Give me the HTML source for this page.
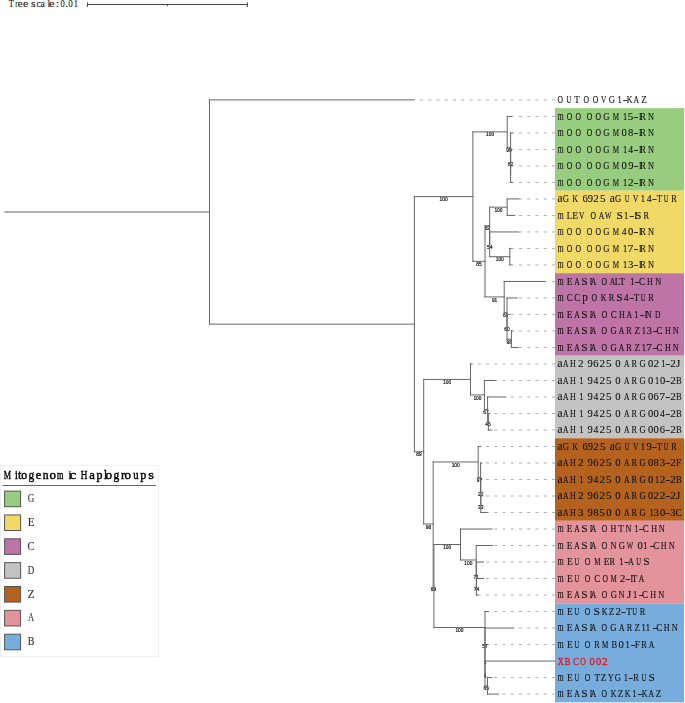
<!DOCTYPE html><html><head><meta charset="utf-8"><style>
html,body{margin:0;padding:0;background:#fff;width:685px;height:703px;overflow:hidden}
svg{display:block}
.lb{font-family:"Liberation Serif",serif;font-size:11.2px;fill:#111;stroke:#111;stroke-width:0.12px}
.bs{font-family:"Liberation Sans",sans-serif;font-size:5.5px;fill:#111;stroke:#111;stroke-width:0.2px}
.sc{font-family:"Liberation Serif",serif;font-size:9.3px;fill:#222;stroke:#222;stroke-width:0.1px}
.tt{font-family:"Liberation Serif",serif;font-size:13.4px;fill:#000;stroke:#000;stroke-width:0.45px}
.lg{font-family:"Liberation Serif",serif;font-size:13px;fill:#333;stroke:#333;stroke-width:0.15px}
</style></head><body>
<svg width="685" height="703" viewBox="0 0 685 703">
<rect x="0" y="0" width="685" height="703" fill="#fff"/>
<rect x="555" y="108.15" width="129" height="82.53" fill="#98CC7E"/>
<rect x="555" y="190.68" width="129" height="82.52" fill="#F0D966"/>
<rect x="555" y="273.20" width="129" height="82.53" fill="#BE74A6"/>
<rect x="555" y="355.73" width="129" height="82.52" fill="#C3C3C3"/>
<rect x="555" y="438.25" width="129" height="82.53" fill="#B4621E"/>
<rect x="555" y="520.78" width="129" height="82.53" fill="#E2939B"/>
<rect x="555" y="603.30" width="129" height="99.03" fill="#77ADDD"/>
<g opacity="0.999">
<text class="sc" transform="translate(8.75 7.40) scale(0.914 1.0)">T</text>
<text class="sc" transform="translate(15.14 7.40) scale(0.848 1.0)">r</text>
<text class="sc" transform="translate(17.68 7.40) scale(1.162 1.0)">e</text>
<text class="sc" transform="translate(22.94 7.40) scale(1.278 1.0)">e</text>
<text class="sc" transform="translate(31.01 7.40) scale(1.275 1.0)">s</text>
<text class="sc" transform="translate(36.42 7.40) scale(1.061 1.0)">c</text>
<text class="sc" transform="translate(40.45 7.40) scale(1.062 1.0)">a</text>
<text class="sc" transform="translate(47.61 7.40) scale(0.995 1.0)">l</text>
<text class="sc" transform="translate(49.01 7.40) scale(1.336 1.0)">e</text>
<text class="sc" transform="translate(55.42 7.40) scale(1.462 1.0)">:</text>
<text class="sc" transform="translate(60.38 7.40) scale(0.913 1.0)">0</text>
<text class="sc" transform="translate(65.17 7.40) scale(1.183 1.0)">.</text>
<text class="sc" transform="translate(68.16 7.40) scale(0.964 1.0)">0</text>
<text class="sc" transform="translate(73.75 7.40) scale(0.916 1.0)">1</text>
</g>
<path d="M87.4 4.5H247.4M87.4 2.3V7M247.4 2.3V7M167.5 4.5V6" stroke="#444" stroke-width="1" fill="none"/>
<path d="M555 99.90H414.10M555 116.41H511.40M555 132.91H512.80M555 149.42H511.50M555 165.92H511.50M555 182.43H512.20M555 198.93H518.80M555 215.44H514.70M555 231.94H518.50M555 248.44H510.80M555 264.95H510.80M555 281.45H544.80M555 297.96H517.20M555 314.47H509.60M555 330.97H512.80M555 347.48H518.00M555 363.98H472.00M555 380.49H494.90M555 396.99H505.80M555 413.50H490.00M555 430.00H491.80M555 446.50H480.80M555 463.01H481.80M555 479.51H481.80M555 496.02H482.00M555 512.52H487.00M555 529.03H492.00M555 545.53H492.60M555 562.04H483.50M555 578.54H483.50M555 595.05H477.80M555 611.55H488.50M555 628.06H513.70M555 644.56H487.80M555 677.57H491.80M555 694.08H498.50" stroke="#b0b0b0" stroke-width="1" stroke-dasharray="3 5.25" fill="none"/>
<g opacity="0.999">
<text class="bs" transform="translate(443.65 201.21) scale(0.88 1)" text-anchor="middle">100</text>
<text class="bs" transform="translate(490.05 136.48) scale(0.88 1)" text-anchor="middle">100</text>
<text class="bs" transform="translate(508.90 151.95) scale(0.88 1)" text-anchor="middle">99</text>
<text class="bs" transform="translate(510.60 166.39) scale(0.88 1)" text-anchor="middle">82</text>
<text class="bs" transform="translate(478.95 265.94) scale(0.88 1)" text-anchor="middle">85</text>
<text class="bs" transform="translate(487.35 230.35) scale(0.88 1)" text-anchor="middle">63</text>
<text class="bs" transform="translate(498.45 211.78) scale(0.88 1)" text-anchor="middle">100</text>
<text class="bs" transform="translate(489.70 248.92) scale(0.88 1)" text-anchor="middle">54</text>
<text class="bs" transform="translate(499.75 261.30) scale(0.88 1)" text-anchor="middle">100</text>
<text class="bs" transform="translate(494.60 301.53) scale(0.88 1)" text-anchor="middle">91</text>
<text class="bs" transform="translate(505.60 317.00) scale(0.88 1)" text-anchor="middle">61</text>
<text class="bs" transform="translate(507.00 331.44) scale(0.88 1)" text-anchor="middle">60</text>
<text class="bs" transform="translate(509.20 343.82) scale(0.88 1)" text-anchor="middle">98</text>
<text class="bs" transform="translate(419.05 456.33) scale(0.88 1)" text-anchor="middle">89</text>
<text class="bs" transform="translate(447.10 384.05) scale(0.88 1)" text-anchor="middle">100</text>
<text class="bs" transform="translate(477.45 399.53) scale(0.88 1)" text-anchor="middle">100</text>
<text class="bs" transform="translate(486.00 413.97) scale(0.88 1)" text-anchor="middle">67</text>
<text class="bs" transform="translate(488.00 426.35) scale(0.88 1)" text-anchor="middle">45</text>
<text class="bs" transform="translate(428.45 528.60) scale(0.88 1)" text-anchor="middle">98</text>
<text class="bs" transform="translate(455.70 466.58) scale(0.88 1)" text-anchor="middle">100</text>
<text class="bs" transform="translate(479.40 482.05) scale(0.88 1)" text-anchor="middle">97</text>
<text class="bs" transform="translate(480.70 496.49) scale(0.88 1)" text-anchor="middle">22</text>
<text class="bs" transform="translate(480.80 508.87) scale(0.88 1)" text-anchor="middle">33</text>
<text class="bs" transform="translate(433.55 590.62) scale(0.88 1)" text-anchor="middle">69</text>
<text class="bs" transform="translate(447.20 549.10) scale(0.88 1)" text-anchor="middle">100</text>
<text class="bs" transform="translate(468.35 564.58) scale(0.88 1)" text-anchor="middle">100</text>
<text class="bs" transform="translate(476.30 579.02) scale(0.88 1)" text-anchor="middle">71</text>
<text class="bs" transform="translate(476.40 591.40) scale(0.88 1)" text-anchor="middle">74</text>
<text class="bs" transform="translate(459.45 632.14) scale(0.88 1)" text-anchor="middle">100</text>
<text class="bs" transform="translate(485.00 648.13) scale(0.88 1)" text-anchor="middle">57</text>
<text class="bs" transform="translate(485.00 663.61) scale(0.88 1)" text-anchor="middle">1</text>
<text class="bs" transform="translate(485.00 678.05) scale(0.88 1)" text-anchor="middle">6</text>
<text class="bs" transform="translate(486.25 690.43) scale(0.88 1)" text-anchor="middle">65</text>
</g>
<path d="M4.80 212.03L209.50 212.03M209.50 99.90L209.50 324.17M209.50 99.90L414.10 99.90M209.50 324.17L414.40 324.17M414.40 196.61L414.40 451.73M414.40 196.61L472.90 196.61M472.90 131.88L472.90 261.34M472.90 131.88L507.20 131.88M507.20 116.41L507.20 147.35M507.20 116.41L511.40 116.41M507.20 147.35L510.60 147.35M510.60 132.91L510.60 161.79M510.60 132.91L512.80 132.91M510.60 161.79L510.60 161.79M510.60 149.42L510.60 174.17M510.60 149.42L511.50 149.42M510.60 174.17L510.60 174.17M510.60 165.92L510.60 182.43M510.60 165.92L511.50 165.92M510.60 182.43L512.20 182.43M472.90 261.34L485.00 261.34M485.00 225.75L485.00 296.93M485.00 225.75L489.70 225.75M489.70 207.18L489.70 244.32M489.70 207.18L507.20 207.18M507.20 198.93L507.20 215.44M507.20 198.93L518.80 198.93M507.20 215.44L514.70 215.44M489.70 244.32L489.70 244.32M489.70 231.94L489.70 256.70M489.70 231.94L518.50 231.94M489.70 256.70L509.80 256.70M509.80 248.44L509.80 264.95M509.80 248.44L510.80 248.44M509.80 264.95L510.80 264.95M485.00 296.93L504.20 296.93M504.20 281.45L504.20 312.40M504.20 281.45L544.80 281.45M504.20 312.40L507.00 312.40M507.00 297.96L507.00 326.84M507.00 297.96L517.20 297.96M507.00 326.84L507.00 326.84M507.00 314.47L507.00 339.22M507.00 314.47L509.60 314.47M507.00 339.22L511.40 339.22M511.40 330.97L511.40 347.48M511.40 330.97L512.80 330.97M511.40 347.48L518.00 347.48M414.40 451.73L423.70 451.73M423.70 379.45L423.70 524.00M423.70 379.45L470.50 379.45M470.50 363.98L470.50 394.93M470.50 363.98L472.00 363.98M470.50 394.93L484.40 394.93M484.40 380.49L484.40 409.37M484.40 380.49L494.90 380.49M484.40 409.37L487.60 409.37M487.60 396.99L487.60 421.75M487.60 396.99L505.80 396.99M487.60 421.75L488.40 421.75M488.40 413.50L488.40 430.00M488.40 413.50L490.00 413.50M488.40 430.00L491.80 430.00M423.70 524.00L433.20 524.00M433.20 461.98L433.20 586.02M433.20 461.98L478.20 461.98M478.20 446.50L478.20 477.45M478.20 446.50L480.80 446.50M478.20 477.45L480.60 477.45M480.60 463.01L480.60 491.89M480.60 463.01L481.80 463.01M480.60 491.89L480.80 491.89M480.80 479.51L480.80 504.27M480.80 479.51L481.80 479.51M480.80 504.27L480.80 504.27M480.80 496.02L480.80 512.52M480.80 496.02L482.00 496.02M480.80 512.52L487.00 512.52M433.20 586.02L433.90 586.02M433.90 544.50L433.90 627.54M433.90 544.50L460.50 544.50M460.50 529.03L460.50 559.98M460.50 529.03L492.00 529.03M460.50 559.98L476.20 559.98M476.20 545.53L476.20 574.42M476.20 545.53L492.60 545.53M476.20 574.42L476.40 574.42M476.40 562.04L476.40 586.80M476.40 562.04L483.50 562.04M476.40 586.80L476.40 586.80M476.40 578.54L476.40 595.05M476.40 578.54L483.50 578.54M476.40 595.05L477.80 595.05M433.90 627.54L485.00 627.54M485.00 611.55L485.00 643.53M485.00 611.55L488.50 611.55M485.00 643.53L485.00 643.53M485.00 628.06L485.00 659.01M485.00 628.06L513.70 628.06M485.00 659.01L485.00 659.01M485.00 644.56L485.00 673.45M485.00 644.56L487.80 644.56M485.00 673.45L485.00 673.45M485.00 661.07L485.00 685.83M485.00 661.07L555.00 661.07M485.00 685.83L487.50 685.83M487.50 677.57L487.50 694.08M487.50 677.57L491.80 677.57M487.50 694.08L498.50 694.08" stroke="#666" stroke-width="1" fill="none" stroke-linecap="square"/>
<text class="lb" transform="translate(557.59 103.10) scale(0.683 1.0)">O</text>
<text class="lb" transform="translate(566.56 103.10) scale(0.591 1.0)">U</text>
<text class="lb" transform="translate(574.14 103.10) scale(0.806 1.0)">T</text>
<text class="lb" transform="translate(583.49 103.10) scale(0.683 1.0)">O</text>
<text class="lb" transform="translate(592.69 103.10) scale(0.683 1.0)">O</text>
<text class="lb" transform="translate(601.02 103.10) scale(0.664 1.0)">V</text>
<text class="lb" transform="translate(608.75 103.10) scale(0.769 1.0)">G</text>
<text class="lb" transform="translate(617.45 103.10) scale(0.761 1.0)">1</text>
<text class="lb" transform="translate(622.84 103.10) scale(1.340 1.0)">-</text>
<text class="lb" transform="translate(626.77 103.10) scale(0.706 1.0)">K</text>
<text class="lb" transform="translate(633.53 103.10) scale(0.684 1.0)">A</text>
<text class="lb" transform="translate(641.17 103.10) scale(0.808 1.0)">Z</text>
<text class="lb" transform="translate(557.74 119.61) scale(0.675 1.08)">m</text>
<text class="lb" transform="translate(566.69 119.61) scale(0.683 1.0)">O</text>
<text class="lb" transform="translate(575.49 119.61) scale(0.683 1.0)">O</text>
<text class="lb" transform="translate(586.79 119.61) scale(0.683 1.0)">O</text>
<text class="lb" transform="translate(595.59 119.61) scale(0.683 1.0)">O</text>
<text class="lb" transform="translate(603.25 119.61) scale(0.769 1.0)">G</text>
<text class="lb" transform="translate(612.70 119.61) scale(0.634 1.0)">M</text>
<text class="lb" transform="translate(622.95 119.61) scale(0.761 1.0)">1</text>
<text class="lb" transform="translate(627.85 119.61) scale(0.997 1.0)">5</text>
<text class="lb" transform="translate(633.54 119.61) scale(1.340 1.0)">-</text>
<text class="lb" transform="translate(639.12 119.61) scale(0.682 1.0)">I</text>
<text class="lb" transform="translate(640.36 119.61) scale(0.743 1.0)">R</text>
<text class="lb" transform="translate(647.96 119.61) scale(0.746 1.0)">N</text>
<text class="lb" transform="translate(557.74 136.11) scale(0.675 1.08)">m</text>
<text class="lb" transform="translate(566.69 136.11) scale(0.683 1.0)">O</text>
<text class="lb" transform="translate(575.49 136.11) scale(0.683 1.0)">O</text>
<text class="lb" transform="translate(586.79 136.11) scale(0.683 1.0)">O</text>
<text class="lb" transform="translate(595.59 136.11) scale(0.683 1.0)">O</text>
<text class="lb" transform="translate(603.25 136.11) scale(0.769 1.0)">G</text>
<text class="lb" transform="translate(612.70 136.11) scale(0.634 1.0)">M</text>
<text class="lb" transform="translate(621.60 136.11) scale(0.948 1.0)">0</text>
<text class="lb" transform="translate(628.10 136.11) scale(0.948 1.0)">8</text>
<text class="lb" transform="translate(633.54 136.11) scale(1.340 1.0)">-</text>
<text class="lb" transform="translate(639.12 136.11) scale(0.682 1.0)">I</text>
<text class="lb" transform="translate(640.36 136.11) scale(0.743 1.0)">R</text>
<text class="lb" transform="translate(647.96 136.11) scale(0.746 1.0)">N</text>
<text class="lb" transform="translate(557.74 152.62) scale(0.675 1.08)">m</text>
<text class="lb" transform="translate(566.69 152.62) scale(0.683 1.0)">O</text>
<text class="lb" transform="translate(575.49 152.62) scale(0.683 1.0)">O</text>
<text class="lb" transform="translate(586.79 152.62) scale(0.683 1.0)">O</text>
<text class="lb" transform="translate(595.59 152.62) scale(0.683 1.0)">O</text>
<text class="lb" transform="translate(603.25 152.62) scale(0.769 1.0)">G</text>
<text class="lb" transform="translate(612.70 152.62) scale(0.634 1.0)">M</text>
<text class="lb" transform="translate(622.95 152.62) scale(0.761 1.0)">1</text>
<text class="lb" transform="translate(628.31 152.62) scale(0.864 1.0)">4</text>
<text class="lb" transform="translate(633.54 152.62) scale(1.340 1.0)">-</text>
<text class="lb" transform="translate(639.12 152.62) scale(0.682 1.0)">I</text>
<text class="lb" transform="translate(640.36 152.62) scale(0.743 1.0)">R</text>
<text class="lb" transform="translate(647.96 152.62) scale(0.746 1.0)">N</text>
<text class="lb" transform="translate(557.74 169.12) scale(0.675 1.08)">m</text>
<text class="lb" transform="translate(566.69 169.12) scale(0.683 1.0)">O</text>
<text class="lb" transform="translate(575.49 169.12) scale(0.683 1.0)">O</text>
<text class="lb" transform="translate(586.79 169.12) scale(0.683 1.0)">O</text>
<text class="lb" transform="translate(595.59 169.12) scale(0.683 1.0)">O</text>
<text class="lb" transform="translate(603.25 169.12) scale(0.769 1.0)">G</text>
<text class="lb" transform="translate(612.70 169.12) scale(0.634 1.0)">M</text>
<text class="lb" transform="translate(621.60 169.12) scale(0.948 1.0)">0</text>
<text class="lb" transform="translate(628.16 169.12) scale(0.941 1.0)">9</text>
<text class="lb" transform="translate(633.54 169.12) scale(1.340 1.0)">-</text>
<text class="lb" transform="translate(639.12 169.12) scale(0.682 1.0)">I</text>
<text class="lb" transform="translate(640.36 169.12) scale(0.743 1.0)">R</text>
<text class="lb" transform="translate(647.96 169.12) scale(0.746 1.0)">N</text>
<text class="lb" transform="translate(557.74 185.62) scale(0.675 1.08)">m</text>
<text class="lb" transform="translate(566.69 185.62) scale(0.683 1.0)">O</text>
<text class="lb" transform="translate(575.49 185.62) scale(0.683 1.0)">O</text>
<text class="lb" transform="translate(586.79 185.62) scale(0.683 1.0)">O</text>
<text class="lb" transform="translate(595.59 185.62) scale(0.683 1.0)">O</text>
<text class="lb" transform="translate(603.25 185.62) scale(0.769 1.0)">G</text>
<text class="lb" transform="translate(612.70 185.62) scale(0.634 1.0)">M</text>
<text class="lb" transform="translate(622.95 185.62) scale(0.761 1.0)">1</text>
<text class="lb" transform="translate(628.01 185.62) scale(1.002 1.0)">2</text>
<text class="lb" transform="translate(633.54 185.62) scale(1.340 1.0)">-</text>
<text class="lb" transform="translate(639.12 185.62) scale(0.682 1.0)">I</text>
<text class="lb" transform="translate(640.36 185.62) scale(0.743 1.0)">R</text>
<text class="lb" transform="translate(647.96 185.62) scale(0.746 1.0)">N</text>
<text class="lb" transform="translate(557.60 202.13) scale(1.017 1.08)">a</text>
<text class="lb" transform="translate(562.85 202.13) scale(0.769 1.0)">G</text>
<text class="lb" transform="translate(572.17 202.13) scale(0.706 1.0)">K</text>
<text class="lb" transform="translate(582.45 202.13) scale(0.940 1.0)">6</text>
<text class="lb" transform="translate(587.86 202.13) scale(0.941 1.0)">9</text>
<text class="lb" transform="translate(593.31 202.13) scale(1.002 1.0)">2</text>
<text class="lb" transform="translate(599.95 202.13) scale(0.997 1.0)">5</text>
<text class="lb" transform="translate(609.80 202.13) scale(1.017 1.08)">a</text>
<text class="lb" transform="translate(615.05 202.13) scale(0.769 1.0)">G</text>
<text class="lb" transform="translate(624.76 202.13) scale(0.591 1.0)">U</text>
<text class="lb" transform="translate(633.12 202.13) scale(0.664 1.0)">V</text>
<text class="lb" transform="translate(640.85 202.13) scale(0.761 1.0)">1</text>
<text class="lb" transform="translate(646.71 202.13) scale(0.864 1.0)">4</text>
<text class="lb" transform="translate(651.94 202.13) scale(1.340 1.0)">-</text>
<text class="lb" transform="translate(656.64 202.13) scale(0.806 1.0)">T</text>
<text class="lb" transform="translate(663.86 202.13) scale(0.591 1.0)">U</text>
<text class="lb" transform="translate(671.26 202.13) scale(0.743 1.0)">R</text>
<text class="lb" transform="translate(557.74 218.63) scale(0.675 1.08)">m</text>
<text class="lb" transform="translate(566.75 218.63) scale(0.770 1.0)">L</text>
<text class="lb" transform="translate(572.23 218.63) scale(0.839 1.0)">E</text>
<text class="lb" transform="translate(579.02 218.63) scale(0.664 1.0)">V</text>
<text class="lb" transform="translate(590.49 218.63) scale(0.683 1.0)">O</text>
<text class="lb" transform="translate(598.73 218.63) scale(0.684 1.0)">A</text>
<text class="lb" transform="translate(605.09 218.63) scale(0.607 1.0)">W</text>
<text class="lb" transform="translate(616.43 218.63) scale(1.024 1.0)">S</text>
<text class="lb" transform="translate(624.05 218.63) scale(0.761 1.0)">1</text>
<text class="lb" transform="translate(629.34 218.63) scale(1.340 1.0)">-</text>
<text class="lb" transform="translate(634.42 218.63) scale(0.682 1.0)">I</text>
<text class="lb" transform="translate(635.03 218.63) scale(1.024 1.0)">S</text>
<text class="lb" transform="translate(643.56 218.63) scale(0.743 1.0)">R</text>
<text class="lb" transform="translate(557.74 235.14) scale(0.675 1.08)">m</text>
<text class="lb" transform="translate(566.69 235.14) scale(0.683 1.0)">O</text>
<text class="lb" transform="translate(575.49 235.14) scale(0.683 1.0)">O</text>
<text class="lb" transform="translate(586.79 235.14) scale(0.683 1.0)">O</text>
<text class="lb" transform="translate(595.59 235.14) scale(0.683 1.0)">O</text>
<text class="lb" transform="translate(603.25 235.14) scale(0.769 1.0)">G</text>
<text class="lb" transform="translate(612.70 235.14) scale(0.634 1.0)">M</text>
<text class="lb" transform="translate(621.81 235.14) scale(0.864 1.0)">4</text>
<text class="lb" transform="translate(628.10 235.14) scale(0.948 1.0)">0</text>
<text class="lb" transform="translate(633.54 235.14) scale(1.340 1.0)">-</text>
<text class="lb" transform="translate(639.12 235.14) scale(0.682 1.0)">I</text>
<text class="lb" transform="translate(640.36 235.14) scale(0.743 1.0)">R</text>
<text class="lb" transform="translate(647.96 235.14) scale(0.746 1.0)">N</text>
<text class="lb" transform="translate(557.74 251.64) scale(0.675 1.08)">m</text>
<text class="lb" transform="translate(566.69 251.64) scale(0.683 1.0)">O</text>
<text class="lb" transform="translate(575.49 251.64) scale(0.683 1.0)">O</text>
<text class="lb" transform="translate(586.79 251.64) scale(0.683 1.0)">O</text>
<text class="lb" transform="translate(595.59 251.64) scale(0.683 1.0)">O</text>
<text class="lb" transform="translate(603.25 251.64) scale(0.769 1.0)">G</text>
<text class="lb" transform="translate(612.70 251.64) scale(0.634 1.0)">M</text>
<text class="lb" transform="translate(622.95 251.64) scale(0.761 1.0)">1</text>
<text class="lb" transform="translate(627.77 251.64) scale(0.991 1.0)">7</text>
<text class="lb" transform="translate(633.54 251.64) scale(1.340 1.0)">-</text>
<text class="lb" transform="translate(639.12 251.64) scale(0.682 1.0)">I</text>
<text class="lb" transform="translate(640.36 251.64) scale(0.743 1.0)">R</text>
<text class="lb" transform="translate(647.96 251.64) scale(0.746 1.0)">N</text>
<text class="lb" transform="translate(557.74 268.15) scale(0.675 1.08)">m</text>
<text class="lb" transform="translate(566.69 268.15) scale(0.683 1.0)">O</text>
<text class="lb" transform="translate(575.49 268.15) scale(0.683 1.0)">O</text>
<text class="lb" transform="translate(586.79 268.15) scale(0.683 1.0)">O</text>
<text class="lb" transform="translate(595.59 268.15) scale(0.683 1.0)">O</text>
<text class="lb" transform="translate(603.25 268.15) scale(0.769 1.0)">G</text>
<text class="lb" transform="translate(612.70 268.15) scale(0.634 1.0)">M</text>
<text class="lb" transform="translate(622.95 268.15) scale(0.761 1.0)">1</text>
<text class="lb" transform="translate(627.98 268.15) scale(0.973 1.0)">3</text>
<text class="lb" transform="translate(633.54 268.15) scale(1.340 1.0)">-</text>
<text class="lb" transform="translate(639.12 268.15) scale(0.682 1.0)">I</text>
<text class="lb" transform="translate(640.36 268.15) scale(0.743 1.0)">R</text>
<text class="lb" transform="translate(647.96 268.15) scale(0.746 1.0)">N</text>
<text class="lb" transform="translate(557.74 284.65) scale(0.675 1.08)">m</text>
<text class="lb" transform="translate(566.73 284.65) scale(0.839 1.0)">E</text>
<text class="lb" transform="translate(574.23 284.65) scale(0.684 1.0)">A</text>
<text class="lb" transform="translate(581.23 284.65) scale(1.024 1.0)">S</text>
<text class="lb" transform="translate(589.72 284.65) scale(0.682 1.0)">I</text>
<text class="lb" transform="translate(590.73 284.65) scale(0.684 1.0)">A</text>
<text class="lb" transform="translate(601.59 284.65) scale(0.683 1.0)">O</text>
<text class="lb" transform="translate(609.73 284.65) scale(0.684 1.0)">A</text>
<text class="lb" transform="translate(614.85 284.65) scale(0.770 1.0)">L</text>
<text class="lb" transform="translate(619.54 284.65) scale(0.806 1.0)">T</text>
<text class="lb" transform="translate(630.15 284.65) scale(0.761 1.0)">1</text>
<text class="lb" transform="translate(634.54 284.65) scale(1.340 1.0)">-</text>
<text class="lb" transform="translate(638.93 284.65) scale(0.798 1.0)">C</text>
<text class="lb" transform="translate(646.97 284.65) scale(0.726 1.0)">H</text>
<text class="lb" transform="translate(655.16 284.65) scale(0.746 1.0)">N</text>
<text class="lb" transform="translate(557.74 301.16) scale(0.675 1.08)">m</text>
<text class="lb" transform="translate(566.63 301.16) scale(0.798 1.0)">C</text>
<text class="lb" transform="translate(574.33 301.16) scale(0.798 1.0)">C</text>
<text class="lb" transform="translate(582.22 301.16) scale(1.004 1.08)">p</text>
<text class="lb" transform="translate(591.59 301.16) scale(0.683 1.0)">O</text>
<text class="lb" transform="translate(600.77 301.16) scale(0.706 1.0)">K</text>
<text class="lb" transform="translate(608.76 301.16) scale(0.743 1.0)">R</text>
<text class="lb" transform="translate(616.23 301.16) scale(1.024 1.0)">S</text>
<text class="lb" transform="translate(623.71 301.16) scale(0.864 1.0)">4</text>
<text class="lb" transform="translate(629.24 301.16) scale(1.340 1.0)">-</text>
<text class="lb" transform="translate(633.84 301.16) scale(0.806 1.0)">T</text>
<text class="lb" transform="translate(640.86 301.16) scale(0.591 1.0)">U</text>
<text class="lb" transform="translate(648.36 301.16) scale(0.743 1.0)">R</text>
<text class="lb" transform="translate(557.74 317.67) scale(0.675 1.08)">m</text>
<text class="lb" transform="translate(566.73 317.67) scale(0.839 1.0)">E</text>
<text class="lb" transform="translate(574.23 317.67) scale(0.684 1.0)">A</text>
<text class="lb" transform="translate(581.23 317.67) scale(1.024 1.0)">S</text>
<text class="lb" transform="translate(589.72 317.67) scale(0.682 1.0)">I</text>
<text class="lb" transform="translate(590.73 317.67) scale(0.684 1.0)">A</text>
<text class="lb" transform="translate(601.69 317.67) scale(0.683 1.0)">O</text>
<text class="lb" transform="translate(610.83 317.67) scale(0.798 1.0)">C</text>
<text class="lb" transform="translate(618.97 317.67) scale(0.726 1.0)">H</text>
<text class="lb" transform="translate(626.43 317.67) scale(0.684 1.0)">A</text>
<text class="lb" transform="translate(634.35 317.67) scale(0.761 1.0)">1</text>
<text class="lb" transform="translate(639.64 317.67) scale(1.340 1.0)">-</text>
<text class="lb" transform="translate(644.72 317.67) scale(0.682 1.0)">I</text>
<text class="lb" transform="translate(645.86 317.67) scale(0.746 1.0)">N</text>
<text class="lb" transform="translate(654.98 317.67) scale(0.670 1.0)">D</text>
<text class="lb" transform="translate(557.74 334.17) scale(0.675 1.08)">m</text>
<text class="lb" transform="translate(566.73 334.17) scale(0.839 1.0)">E</text>
<text class="lb" transform="translate(574.23 334.17) scale(0.684 1.0)">A</text>
<text class="lb" transform="translate(581.23 334.17) scale(1.024 1.0)">S</text>
<text class="lb" transform="translate(589.72 334.17) scale(0.682 1.0)">I</text>
<text class="lb" transform="translate(590.73 334.17) scale(0.684 1.0)">A</text>
<text class="lb" transform="translate(601.59 334.17) scale(0.683 1.0)">O</text>
<text class="lb" transform="translate(610.45 334.17) scale(0.769 1.0)">G</text>
<text class="lb" transform="translate(618.83 334.17) scale(0.684 1.0)">A</text>
<text class="lb" transform="translate(626.26 334.17) scale(0.743 1.0)">R</text>
<text class="lb" transform="translate(634.47 334.17) scale(0.808 1.0)">Z</text>
<text class="lb" transform="translate(641.65 334.17) scale(0.761 1.0)">1</text>
<text class="lb" transform="translate(646.58 334.17) scale(0.973 1.0)">3</text>
<text class="lb" transform="translate(652.64 334.17) scale(1.340 1.0)">-</text>
<text class="lb" transform="translate(656.53 334.17) scale(0.798 1.0)">C</text>
<text class="lb" transform="translate(665.07 334.17) scale(0.726 1.0)">H</text>
<text class="lb" transform="translate(672.76 334.17) scale(0.746 1.0)">N</text>
<text class="lb" transform="translate(557.74 350.68) scale(0.675 1.08)">m</text>
<text class="lb" transform="translate(566.73 350.68) scale(0.839 1.0)">E</text>
<text class="lb" transform="translate(574.23 350.68) scale(0.684 1.0)">A</text>
<text class="lb" transform="translate(581.23 350.68) scale(1.024 1.0)">S</text>
<text class="lb" transform="translate(589.72 350.68) scale(0.682 1.0)">I</text>
<text class="lb" transform="translate(590.73 350.68) scale(0.684 1.0)">A</text>
<text class="lb" transform="translate(601.59 350.68) scale(0.683 1.0)">O</text>
<text class="lb" transform="translate(610.45 350.68) scale(0.769 1.0)">G</text>
<text class="lb" transform="translate(618.83 350.68) scale(0.684 1.0)">A</text>
<text class="lb" transform="translate(626.26 350.68) scale(0.743 1.0)">R</text>
<text class="lb" transform="translate(634.47 350.68) scale(0.808 1.0)">Z</text>
<text class="lb" transform="translate(641.65 350.68) scale(0.761 1.0)">1</text>
<text class="lb" transform="translate(646.37 350.68) scale(0.991 1.0)">7</text>
<text class="lb" transform="translate(652.64 350.68) scale(1.340 1.0)">-</text>
<text class="lb" transform="translate(656.53 350.68) scale(0.798 1.0)">C</text>
<text class="lb" transform="translate(665.07 350.68) scale(0.726 1.0)">H</text>
<text class="lb" transform="translate(672.76 350.68) scale(0.746 1.0)">N</text>
<text class="lb" transform="translate(557.50 367.18) scale(1.017 1.08)">a</text>
<text class="lb" transform="translate(562.93 367.18) scale(0.684 1.0)">A</text>
<text class="lb" transform="translate(570.07 367.18) scale(0.726 1.0)">H</text>
<text class="lb" transform="translate(577.91 367.18) scale(1.002 1.0)">2</text>
<text class="lb" transform="translate(587.46 367.18) scale(0.941 1.0)">9</text>
<text class="lb" transform="translate(593.25 367.18) scale(0.940 1.0)">6</text>
<text class="lb" transform="translate(599.51 367.18) scale(1.002 1.0)">2</text>
<text class="lb" transform="translate(605.95 367.18) scale(0.997 1.0)">5</text>
<text class="lb" transform="translate(615.30 367.18) scale(0.948 1.0)">0</text>
<text class="lb" transform="translate(624.03 367.18) scale(0.684 1.0)">A</text>
<text class="lb" transform="translate(631.56 367.18) scale(0.743 1.0)">R</text>
<text class="lb" transform="translate(639.45 367.18) scale(0.769 1.0)">G</text>
<text class="lb" transform="translate(648.10 367.18) scale(0.948 1.0)">0</text>
<text class="lb" transform="translate(653.51 367.18) scale(1.002 1.0)">2</text>
<text class="lb" transform="translate(661.25 367.18) scale(0.761 1.0)">1</text>
<text class="lb" transform="translate(665.14 367.18) scale(1.340 1.0)">-</text>
<text class="lb" transform="translate(670.31 367.18) scale(1.002 1.0)">2</text>
<text class="lb" transform="translate(675.97 367.18) scale(0.977 1.0)">J</text>
<text class="lb" transform="translate(557.50 383.69) scale(1.017 1.08)">a</text>
<text class="lb" transform="translate(562.93 383.69) scale(0.684 1.0)">A</text>
<text class="lb" transform="translate(570.07 383.69) scale(0.726 1.0)">H</text>
<text class="lb" transform="translate(579.35 383.69) scale(0.761 1.0)">1</text>
<text class="lb" transform="translate(587.46 383.69) scale(0.941 1.0)">9</text>
<text class="lb" transform="translate(593.51 383.69) scale(0.864 1.0)">4</text>
<text class="lb" transform="translate(599.51 383.69) scale(1.002 1.0)">2</text>
<text class="lb" transform="translate(605.95 383.69) scale(0.997 1.0)">5</text>
<text class="lb" transform="translate(615.30 383.69) scale(0.948 1.0)">0</text>
<text class="lb" transform="translate(624.03 383.69) scale(0.684 1.0)">A</text>
<text class="lb" transform="translate(631.56 383.69) scale(0.743 1.0)">R</text>
<text class="lb" transform="translate(639.45 383.69) scale(0.769 1.0)">G</text>
<text class="lb" transform="translate(648.10 383.69) scale(0.948 1.0)">0</text>
<text class="lb" transform="translate(654.95 383.69) scale(0.761 1.0)">1</text>
<text class="lb" transform="translate(659.90 383.69) scale(0.948 1.0)">0</text>
<text class="lb" transform="translate(665.14 383.69) scale(1.340 1.0)">-</text>
<text class="lb" transform="translate(670.31 383.69) scale(1.002 1.0)">2</text>
<text class="lb" transform="translate(675.96 383.69) scale(0.757 1.0)">B</text>
<text class="lb" transform="translate(557.50 400.19) scale(1.017 1.08)">a</text>
<text class="lb" transform="translate(562.93 400.19) scale(0.684 1.0)">A</text>
<text class="lb" transform="translate(570.07 400.19) scale(0.726 1.0)">H</text>
<text class="lb" transform="translate(579.35 400.19) scale(0.761 1.0)">1</text>
<text class="lb" transform="translate(587.46 400.19) scale(0.941 1.0)">9</text>
<text class="lb" transform="translate(593.51 400.19) scale(0.864 1.0)">4</text>
<text class="lb" transform="translate(599.51 400.19) scale(1.002 1.0)">2</text>
<text class="lb" transform="translate(605.95 400.19) scale(0.997 1.0)">5</text>
<text class="lb" transform="translate(615.30 400.19) scale(0.948 1.0)">0</text>
<text class="lb" transform="translate(624.03 400.19) scale(0.684 1.0)">A</text>
<text class="lb" transform="translate(631.56 400.19) scale(0.743 1.0)">R</text>
<text class="lb" transform="translate(639.45 400.19) scale(0.769 1.0)">G</text>
<text class="lb" transform="translate(648.10 400.19) scale(0.948 1.0)">0</text>
<text class="lb" transform="translate(653.55 400.19) scale(0.940 1.0)">6</text>
<text class="lb" transform="translate(659.57 400.19) scale(0.991 1.0)">7</text>
<text class="lb" transform="translate(665.14 400.19) scale(1.340 1.0)">-</text>
<text class="lb" transform="translate(670.31 400.19) scale(1.002 1.0)">2</text>
<text class="lb" transform="translate(675.96 400.19) scale(0.757 1.0)">B</text>
<text class="lb" transform="translate(557.50 416.69) scale(1.017 1.08)">a</text>
<text class="lb" transform="translate(562.93 416.69) scale(0.684 1.0)">A</text>
<text class="lb" transform="translate(570.07 416.69) scale(0.726 1.0)">H</text>
<text class="lb" transform="translate(579.35 416.69) scale(0.761 1.0)">1</text>
<text class="lb" transform="translate(587.46 416.69) scale(0.941 1.0)">9</text>
<text class="lb" transform="translate(593.51 416.69) scale(0.864 1.0)">4</text>
<text class="lb" transform="translate(599.51 416.69) scale(1.002 1.0)">2</text>
<text class="lb" transform="translate(605.95 416.69) scale(0.997 1.0)">5</text>
<text class="lb" transform="translate(615.30 416.69) scale(0.948 1.0)">0</text>
<text class="lb" transform="translate(624.03 416.69) scale(0.684 1.0)">A</text>
<text class="lb" transform="translate(631.56 416.69) scale(0.743 1.0)">R</text>
<text class="lb" transform="translate(639.45 416.69) scale(0.769 1.0)">G</text>
<text class="lb" transform="translate(648.10 416.69) scale(0.948 1.0)">0</text>
<text class="lb" transform="translate(653.60 416.69) scale(0.948 1.0)">0</text>
<text class="lb" transform="translate(660.11 416.69) scale(0.864 1.0)">4</text>
<text class="lb" transform="translate(665.14 416.69) scale(1.340 1.0)">-</text>
<text class="lb" transform="translate(670.31 416.69) scale(1.002 1.0)">2</text>
<text class="lb" transform="translate(675.96 416.69) scale(0.757 1.0)">B</text>
<text class="lb" transform="translate(557.50 433.20) scale(1.017 1.08)">a</text>
<text class="lb" transform="translate(562.93 433.20) scale(0.684 1.0)">A</text>
<text class="lb" transform="translate(570.07 433.20) scale(0.726 1.0)">H</text>
<text class="lb" transform="translate(579.35 433.20) scale(0.761 1.0)">1</text>
<text class="lb" transform="translate(587.46 433.20) scale(0.941 1.0)">9</text>
<text class="lb" transform="translate(593.51 433.20) scale(0.864 1.0)">4</text>
<text class="lb" transform="translate(599.51 433.20) scale(1.002 1.0)">2</text>
<text class="lb" transform="translate(605.95 433.20) scale(0.997 1.0)">5</text>
<text class="lb" transform="translate(615.30 433.20) scale(0.948 1.0)">0</text>
<text class="lb" transform="translate(624.03 433.20) scale(0.684 1.0)">A</text>
<text class="lb" transform="translate(631.56 433.20) scale(0.743 1.0)">R</text>
<text class="lb" transform="translate(639.45 433.20) scale(0.769 1.0)">G</text>
<text class="lb" transform="translate(648.10 433.20) scale(0.948 1.0)">0</text>
<text class="lb" transform="translate(653.60 433.20) scale(0.948 1.0)">0</text>
<text class="lb" transform="translate(659.85 433.20) scale(0.940 1.0)">6</text>
<text class="lb" transform="translate(665.14 433.20) scale(1.340 1.0)">-</text>
<text class="lb" transform="translate(670.31 433.20) scale(1.002 1.0)">2</text>
<text class="lb" transform="translate(675.96 433.20) scale(0.757 1.0)">B</text>
<text class="lb" transform="translate(557.60 449.70) scale(1.017 1.08)">a</text>
<text class="lb" transform="translate(562.85 449.70) scale(0.769 1.0)">G</text>
<text class="lb" transform="translate(572.17 449.70) scale(0.706 1.0)">K</text>
<text class="lb" transform="translate(582.45 449.70) scale(0.940 1.0)">6</text>
<text class="lb" transform="translate(587.86 449.70) scale(0.941 1.0)">9</text>
<text class="lb" transform="translate(593.31 449.70) scale(1.002 1.0)">2</text>
<text class="lb" transform="translate(599.95 449.70) scale(0.997 1.0)">5</text>
<text class="lb" transform="translate(609.80 449.70) scale(1.017 1.08)">a</text>
<text class="lb" transform="translate(615.05 449.70) scale(0.769 1.0)">G</text>
<text class="lb" transform="translate(624.76 449.70) scale(0.591 1.0)">U</text>
<text class="lb" transform="translate(633.12 449.70) scale(0.664 1.0)">V</text>
<text class="lb" transform="translate(640.85 449.70) scale(0.761 1.0)">1</text>
<text class="lb" transform="translate(646.56 449.70) scale(0.941 1.0)">9</text>
<text class="lb" transform="translate(651.94 449.70) scale(1.340 1.0)">-</text>
<text class="lb" transform="translate(656.64 449.70) scale(0.806 1.0)">T</text>
<text class="lb" transform="translate(663.86 449.70) scale(0.591 1.0)">U</text>
<text class="lb" transform="translate(671.26 449.70) scale(0.743 1.0)">R</text>
<text class="lb" transform="translate(557.50 466.21) scale(1.017 1.08)">a</text>
<text class="lb" transform="translate(562.93 466.21) scale(0.684 1.0)">A</text>
<text class="lb" transform="translate(570.07 466.21) scale(0.726 1.0)">H</text>
<text class="lb" transform="translate(577.91 466.21) scale(1.002 1.0)">2</text>
<text class="lb" transform="translate(587.46 466.21) scale(0.941 1.0)">9</text>
<text class="lb" transform="translate(593.25 466.21) scale(0.940 1.0)">6</text>
<text class="lb" transform="translate(599.51 466.21) scale(1.002 1.0)">2</text>
<text class="lb" transform="translate(605.95 466.21) scale(0.997 1.0)">5</text>
<text class="lb" transform="translate(615.30 466.21) scale(0.948 1.0)">0</text>
<text class="lb" transform="translate(624.03 466.21) scale(0.684 1.0)">A</text>
<text class="lb" transform="translate(631.56 466.21) scale(0.743 1.0)">R</text>
<text class="lb" transform="translate(639.45 466.21) scale(0.769 1.0)">G</text>
<text class="lb" transform="translate(648.10 466.21) scale(0.948 1.0)">0</text>
<text class="lb" transform="translate(653.60 466.21) scale(0.948 1.0)">8</text>
<text class="lb" transform="translate(659.78 466.21) scale(0.973 1.0)">3</text>
<text class="lb" transform="translate(665.14 466.21) scale(1.340 1.0)">-</text>
<text class="lb" transform="translate(670.31 466.21) scale(1.002 1.0)">2</text>
<text class="lb" transform="translate(675.94 466.21) scale(0.818 1.0)">F</text>
<text class="lb" transform="translate(557.50 482.71) scale(1.017 1.08)">a</text>
<text class="lb" transform="translate(562.93 482.71) scale(0.684 1.0)">A</text>
<text class="lb" transform="translate(570.07 482.71) scale(0.726 1.0)">H</text>
<text class="lb" transform="translate(579.35 482.71) scale(0.761 1.0)">1</text>
<text class="lb" transform="translate(587.46 482.71) scale(0.941 1.0)">9</text>
<text class="lb" transform="translate(593.51 482.71) scale(0.864 1.0)">4</text>
<text class="lb" transform="translate(599.51 482.71) scale(1.002 1.0)">2</text>
<text class="lb" transform="translate(605.95 482.71) scale(0.997 1.0)">5</text>
<text class="lb" transform="translate(615.30 482.71) scale(0.948 1.0)">0</text>
<text class="lb" transform="translate(624.03 482.71) scale(0.684 1.0)">A</text>
<text class="lb" transform="translate(631.56 482.71) scale(0.743 1.0)">R</text>
<text class="lb" transform="translate(639.45 482.71) scale(0.769 1.0)">G</text>
<text class="lb" transform="translate(648.10 482.71) scale(0.948 1.0)">0</text>
<text class="lb" transform="translate(654.95 482.71) scale(0.761 1.0)">1</text>
<text class="lb" transform="translate(659.81 482.71) scale(1.002 1.0)">2</text>
<text class="lb" transform="translate(665.14 482.71) scale(1.340 1.0)">-</text>
<text class="lb" transform="translate(670.31 482.71) scale(1.002 1.0)">2</text>
<text class="lb" transform="translate(675.96 482.71) scale(0.757 1.0)">B</text>
<text class="lb" transform="translate(557.50 499.22) scale(1.017 1.08)">a</text>
<text class="lb" transform="translate(562.93 499.22) scale(0.684 1.0)">A</text>
<text class="lb" transform="translate(570.07 499.22) scale(0.726 1.0)">H</text>
<text class="lb" transform="translate(577.91 499.22) scale(1.002 1.0)">2</text>
<text class="lb" transform="translate(587.46 499.22) scale(0.941 1.0)">9</text>
<text class="lb" transform="translate(593.25 499.22) scale(0.940 1.0)">6</text>
<text class="lb" transform="translate(599.51 499.22) scale(1.002 1.0)">2</text>
<text class="lb" transform="translate(605.95 499.22) scale(0.997 1.0)">5</text>
<text class="lb" transform="translate(615.30 499.22) scale(0.948 1.0)">0</text>
<text class="lb" transform="translate(624.03 499.22) scale(0.684 1.0)">A</text>
<text class="lb" transform="translate(631.56 499.22) scale(0.743 1.0)">R</text>
<text class="lb" transform="translate(639.45 499.22) scale(0.769 1.0)">G</text>
<text class="lb" transform="translate(648.10 499.22) scale(0.948 1.0)">0</text>
<text class="lb" transform="translate(653.51 499.22) scale(1.002 1.0)">2</text>
<text class="lb" transform="translate(659.81 499.22) scale(1.002 1.0)">2</text>
<text class="lb" transform="translate(665.14 499.22) scale(1.340 1.0)">-</text>
<text class="lb" transform="translate(670.31 499.22) scale(1.002 1.0)">2</text>
<text class="lb" transform="translate(675.97 499.22) scale(0.977 1.0)">J</text>
<text class="lb" transform="translate(557.50 515.73) scale(1.017 1.08)">a</text>
<text class="lb" transform="translate(562.93 515.73) scale(0.684 1.0)">A</text>
<text class="lb" transform="translate(570.07 515.73) scale(0.726 1.0)">H</text>
<text class="lb" transform="translate(577.88 515.73) scale(0.973 1.0)">3</text>
<text class="lb" transform="translate(587.46 515.73) scale(0.941 1.0)">9</text>
<text class="lb" transform="translate(593.30 515.73) scale(0.948 1.0)">8</text>
<text class="lb" transform="translate(599.35 515.73) scale(0.997 1.0)">5</text>
<text class="lb" transform="translate(606.20 515.73) scale(0.948 1.0)">0</text>
<text class="lb" transform="translate(615.30 515.73) scale(0.948 1.0)">0</text>
<text class="lb" transform="translate(624.03 515.73) scale(0.684 1.0)">A</text>
<text class="lb" transform="translate(631.56 515.73) scale(0.743 1.0)">R</text>
<text class="lb" transform="translate(639.45 515.73) scale(0.769 1.0)">G</text>
<text class="lb" transform="translate(649.45 515.73) scale(0.761 1.0)">1</text>
<text class="lb" transform="translate(653.48 515.73) scale(0.973 1.0)">3</text>
<text class="lb" transform="translate(659.90 515.73) scale(0.948 1.0)">0</text>
<text class="lb" transform="translate(665.14 515.73) scale(1.340 1.0)">-</text>
<text class="lb" transform="translate(670.28 515.73) scale(0.973 1.0)">3</text>
<text class="lb" transform="translate(675.83 515.73) scale(0.798 1.0)">C</text>
<text class="lb" transform="translate(557.74 532.23) scale(0.675 1.08)">m</text>
<text class="lb" transform="translate(566.73 532.23) scale(0.839 1.0)">E</text>
<text class="lb" transform="translate(574.23 532.23) scale(0.684 1.0)">A</text>
<text class="lb" transform="translate(581.23 532.23) scale(1.024 1.0)">S</text>
<text class="lb" transform="translate(589.72 532.23) scale(0.682 1.0)">I</text>
<text class="lb" transform="translate(590.73 532.23) scale(0.684 1.0)">A</text>
<text class="lb" transform="translate(601.69 532.23) scale(0.683 1.0)">O</text>
<text class="lb" transform="translate(610.57 532.23) scale(0.726 1.0)">H</text>
<text class="lb" transform="translate(618.24 532.23) scale(0.806 1.0)">T</text>
<text class="lb" transform="translate(625.46 532.23) scale(0.746 1.0)">N</text>
<text class="lb" transform="translate(634.15 532.23) scale(0.761 1.0)">1</text>
<text class="lb" transform="translate(638.64 532.23) scale(1.340 1.0)">-</text>
<text class="lb" transform="translate(642.63 532.23) scale(0.798 1.0)">C</text>
<text class="lb" transform="translate(651.27 532.23) scale(0.726 1.0)">H</text>
<text class="lb" transform="translate(658.86 532.23) scale(0.746 1.0)">N</text>
<text class="lb" transform="translate(557.74 548.74) scale(0.675 1.08)">m</text>
<text class="lb" transform="translate(566.73 548.74) scale(0.839 1.0)">E</text>
<text class="lb" transform="translate(574.23 548.74) scale(0.684 1.0)">A</text>
<text class="lb" transform="translate(581.23 548.74) scale(1.024 1.0)">S</text>
<text class="lb" transform="translate(589.72 548.74) scale(0.682 1.0)">I</text>
<text class="lb" transform="translate(590.73 548.74) scale(0.684 1.0)">A</text>
<text class="lb" transform="translate(601.69 548.74) scale(0.683 1.0)">O</text>
<text class="lb" transform="translate(610.56 548.74) scale(0.746 1.0)">N</text>
<text class="lb" transform="translate(618.85 548.74) scale(0.769 1.0)">G</text>
<text class="lb" transform="translate(626.79 548.74) scale(0.607 1.0)">W</text>
<text class="lb" transform="translate(637.40 548.74) scale(0.948 1.0)">0</text>
<text class="lb" transform="translate(643.25 548.74) scale(0.761 1.0)">1</text>
<text class="lb" transform="translate(649.64 548.74) scale(1.340 1.0)">-</text>
<text class="lb" transform="translate(653.13 548.74) scale(0.798 1.0)">C</text>
<text class="lb" transform="translate(660.77 548.74) scale(0.726 1.0)">H</text>
<text class="lb" transform="translate(668.66 548.74) scale(0.746 1.0)">N</text>
<text class="lb" transform="translate(557.84 565.24) scale(0.675 1.08)">m</text>
<text class="lb" transform="translate(566.93 565.24) scale(0.839 1.0)">E</text>
<text class="lb" transform="translate(574.56 565.24) scale(0.591 1.0)">U</text>
<text class="lb" transform="translate(584.69 565.24) scale(0.683 1.0)">O</text>
<text class="lb" transform="translate(594.20 565.24) scale(0.634 1.0)">M</text>
<text class="lb" transform="translate(603.63 565.24) scale(0.839 1.0)">E</text>
<text class="lb" transform="translate(609.56 565.24) scale(0.743 1.0)">R</text>
<text class="lb" transform="translate(619.25 565.24) scale(0.761 1.0)">1</text>
<text class="lb" transform="translate(624.34 565.24) scale(1.340 1.0)">-</text>
<text class="lb" transform="translate(628.13 565.24) scale(0.684 1.0)">A</text>
<text class="lb" transform="translate(636.26 565.24) scale(0.591 1.0)">U</text>
<text class="lb" transform="translate(643.23 565.24) scale(1.024 1.0)">S</text>
<text class="lb" transform="translate(557.84 581.75) scale(0.675 1.08)">m</text>
<text class="lb" transform="translate(566.93 581.75) scale(0.839 1.0)">E</text>
<text class="lb" transform="translate(574.56 581.75) scale(0.591 1.0)">U</text>
<text class="lb" transform="translate(584.69 581.75) scale(0.683 1.0)">O</text>
<text class="lb" transform="translate(594.33 581.75) scale(0.798 1.0)">C</text>
<text class="lb" transform="translate(602.49 581.75) scale(0.683 1.0)">O</text>
<text class="lb" transform="translate(610.60 581.75) scale(0.634 1.0)">M</text>
<text class="lb" transform="translate(619.81 581.75) scale(1.002 1.0)">2</text>
<text class="lb" transform="translate(625.24 581.75) scale(1.340 1.0)">-</text>
<text class="lb" transform="translate(630.62 581.75) scale(0.682 1.0)">I</text>
<text class="lb" transform="translate(631.84 581.75) scale(0.806 1.0)">T</text>
<text class="lb" transform="translate(638.63 581.75) scale(0.684 1.0)">A</text>
<text class="lb" transform="translate(557.74 598.25) scale(0.675 1.08)">m</text>
<text class="lb" transform="translate(566.73 598.25) scale(0.839 1.0)">E</text>
<text class="lb" transform="translate(574.23 598.25) scale(0.684 1.0)">A</text>
<text class="lb" transform="translate(581.23 598.25) scale(1.024 1.0)">S</text>
<text class="lb" transform="translate(589.72 598.25) scale(0.682 1.0)">I</text>
<text class="lb" transform="translate(590.73 598.25) scale(0.684 1.0)">A</text>
<text class="lb" transform="translate(601.69 598.25) scale(0.683 1.0)">O</text>
<text class="lb" transform="translate(610.85 598.25) scale(0.769 1.0)">G</text>
<text class="lb" transform="translate(618.56 598.25) scale(0.746 1.0)">N</text>
<text class="lb" transform="translate(626.97 598.25) scale(0.977 1.0)">J</text>
<text class="lb" transform="translate(633.05 598.25) scale(0.761 1.0)">1</text>
<text class="lb" transform="translate(638.44 598.25) scale(1.340 1.0)">-</text>
<text class="lb" transform="translate(642.03 598.25) scale(0.798 1.0)">C</text>
<text class="lb" transform="translate(650.17 598.25) scale(0.726 1.0)">H</text>
<text class="lb" transform="translate(658.16 598.25) scale(0.746 1.0)">N</text>
<text class="lb" transform="translate(557.84 614.75) scale(0.675 1.08)">m</text>
<text class="lb" transform="translate(566.93 614.75) scale(0.839 1.0)">E</text>
<text class="lb" transform="translate(574.56 614.75) scale(0.591 1.0)">U</text>
<text class="lb" transform="translate(584.69 614.75) scale(0.683 1.0)">O</text>
<text class="lb" transform="translate(593.43 614.75) scale(1.024 1.0)">S</text>
<text class="lb" transform="translate(601.67 614.75) scale(0.706 1.0)">K</text>
<text class="lb" transform="translate(608.77 614.75) scale(0.808 1.0)">Z</text>
<text class="lb" transform="translate(615.61 614.75) scale(1.002 1.0)">2</text>
<text class="lb" transform="translate(621.04 614.75) scale(1.340 1.0)">-</text>
<text class="lb" transform="translate(626.14 614.75) scale(0.806 1.0)">T</text>
<text class="lb" transform="translate(632.26 614.75) scale(0.591 1.0)">U</text>
<text class="lb" transform="translate(639.76 614.75) scale(0.743 1.0)">R</text>
<text class="lb" transform="translate(557.74 631.26) scale(0.675 1.08)">m</text>
<text class="lb" transform="translate(566.73 631.26) scale(0.839 1.0)">E</text>
<text class="lb" transform="translate(574.23 631.26) scale(0.684 1.0)">A</text>
<text class="lb" transform="translate(581.23 631.26) scale(1.024 1.0)">S</text>
<text class="lb" transform="translate(589.72 631.26) scale(0.682 1.0)">I</text>
<text class="lb" transform="translate(590.73 631.26) scale(0.684 1.0)">A</text>
<text class="lb" transform="translate(601.59 631.26) scale(0.683 1.0)">O</text>
<text class="lb" transform="translate(610.25 631.26) scale(0.769 1.0)">G</text>
<text class="lb" transform="translate(618.93 631.26) scale(0.684 1.0)">A</text>
<text class="lb" transform="translate(626.86 631.26) scale(0.743 1.0)">R</text>
<text class="lb" transform="translate(634.47 631.26) scale(0.808 1.0)">Z</text>
<text class="lb" transform="translate(641.45 631.26) scale(0.761 1.0)">1</text>
<text class="lb" transform="translate(645.85 631.26) scale(0.761 1.0)">1</text>
<text class="lb" transform="translate(652.64 631.26) scale(1.340 1.0)">-</text>
<text class="lb" transform="translate(656.13 631.26) scale(0.798 1.0)">C</text>
<text class="lb" transform="translate(663.87 631.26) scale(0.726 1.0)">H</text>
<text class="lb" transform="translate(671.86 631.26) scale(0.746 1.0)">N</text>
<text class="lb" transform="translate(557.84 647.76) scale(0.675 1.08)">m</text>
<text class="lb" transform="translate(566.93 647.76) scale(0.839 1.0)">E</text>
<text class="lb" transform="translate(574.56 647.76) scale(0.591 1.0)">U</text>
<text class="lb" transform="translate(584.69 647.76) scale(0.683 1.0)">O</text>
<text class="lb" transform="translate(594.36 647.76) scale(0.743 1.0)">R</text>
<text class="lb" transform="translate(602.00 647.76) scale(0.634 1.0)">M</text>
<text class="lb" transform="translate(611.46 647.76) scale(0.757 1.0)">B</text>
<text class="lb" transform="translate(618.60 647.76) scale(0.948 1.0)">0</text>
<text class="lb" transform="translate(625.55 647.76) scale(0.761 1.0)">1</text>
<text class="lb" transform="translate(630.44 647.76) scale(1.340 1.0)">-</text>
<text class="lb" transform="translate(634.64 647.76) scale(0.818 1.0)">F</text>
<text class="lb" transform="translate(641.26 647.76) scale(0.743 1.0)">R</text>
<text class="lb" transform="translate(648.73 647.76) scale(0.684 1.0)">A</text>
<text class="lb" transform="translate(557.82 664.77) scale(0.746 1.0)" style="fill:#e3161e;stroke:#e3161e;stroke-width:0.35px">X</text>
<text class="lb" transform="translate(564.86 664.77) scale(0.757 1.0)" style="fill:#e3161e;stroke:#e3161e;stroke-width:0.35px">B</text>
<text class="lb" transform="translate(572.93 664.77) scale(0.798 1.0)" style="fill:#e3161e;stroke:#e3161e;stroke-width:0.35px">C</text>
<text class="lb" transform="translate(580.29 664.77) scale(0.683 1.0)" style="fill:#e3161e;stroke:#e3161e;stroke-width:0.35px">O</text>
<text class="lb" transform="translate(589.60 664.77) scale(0.948 1.0)" style="fill:#e3161e;stroke:#e3161e;stroke-width:0.35px">0</text>
<text class="lb" transform="translate(595.90 664.77) scale(0.948 1.0)" style="fill:#e3161e;stroke:#e3161e;stroke-width:0.35px">0</text>
<text class="lb" transform="translate(602.01 664.77) scale(1.002 1.0)" style="fill:#e3161e;stroke:#e3161e;stroke-width:0.35px">2</text>
<text class="lb" transform="translate(557.84 680.77) scale(0.675 1.08)">m</text>
<text class="lb" transform="translate(566.93 680.77) scale(0.839 1.0)">E</text>
<text class="lb" transform="translate(574.56 680.77) scale(0.591 1.0)">U</text>
<text class="lb" transform="translate(584.69 680.77) scale(0.683 1.0)">O</text>
<text class="lb" transform="translate(594.44 680.77) scale(0.806 1.0)">T</text>
<text class="lb" transform="translate(600.77 680.77) scale(0.808 1.0)">Z</text>
<text class="lb" transform="translate(608.01 680.77) scale(0.703 1.0)">Y</text>
<text class="lb" transform="translate(614.65 680.77) scale(0.769 1.0)">G</text>
<text class="lb" transform="translate(623.75 680.77) scale(0.761 1.0)">1</text>
<text class="lb" transform="translate(628.34 680.77) scale(1.340 1.0)">-</text>
<text class="lb" transform="translate(633.36 680.77) scale(0.743 1.0)">R</text>
<text class="lb" transform="translate(641.56 680.77) scale(0.591 1.0)">U</text>
<text class="lb" transform="translate(648.53 680.77) scale(1.024 1.0)">S</text>
<text class="lb" transform="translate(557.74 697.28) scale(0.675 1.08)">m</text>
<text class="lb" transform="translate(566.73 697.28) scale(0.839 1.0)">E</text>
<text class="lb" transform="translate(574.23 697.28) scale(0.684 1.0)">A</text>
<text class="lb" transform="translate(581.23 697.28) scale(1.024 1.0)">S</text>
<text class="lb" transform="translate(589.72 697.28) scale(0.682 1.0)">I</text>
<text class="lb" transform="translate(590.73 697.28) scale(0.684 1.0)">A</text>
<text class="lb" transform="translate(601.59 697.28) scale(0.683 1.0)">O</text>
<text class="lb" transform="translate(610.77 697.28) scale(0.706 1.0)">K</text>
<text class="lb" transform="translate(617.87 697.28) scale(0.808 1.0)">Z</text>
<text class="lb" transform="translate(624.67 697.28) scale(0.706 1.0)">K</text>
<text class="lb" transform="translate(632.15 697.28) scale(0.761 1.0)">1</text>
<text class="lb" transform="translate(637.44 697.28) scale(1.340 1.0)">-</text>
<text class="lb" transform="translate(641.77 697.28) scale(0.706 1.0)">K</text>
<text class="lb" transform="translate(648.53 697.28) scale(0.684 1.0)">A</text>
<text class="lb" transform="translate(655.87 697.28) scale(0.808 1.0)">Z</text>
<rect x="0.5" y="465.5" width="158" height="191" fill="#fff" stroke="#f0f0f0" stroke-width="1"/>
<g opacity="0.999">
<text class="tt" transform="translate(3.66 478.70) scale(0.611 1.0)">M</text>
<text class="tt" transform="translate(15.09 478.70) scale(0.753 1.0)">i</text>
<text class="tt" transform="translate(17.88 478.70) scale(0.939 1.0)">t</text>
<text class="tt" transform="translate(21.25 478.70) scale(0.880 1.0)">o</text>
<text class="tt" transform="translate(28.41 478.70) scale(0.852 1.0)">g</text>
<text class="tt" transform="translate(35.81 478.70) scale(0.927 1.0)">e</text>
<text class="tt" transform="translate(42.83 478.70) scale(0.872 1.0)">n</text>
<text class="tt" transform="translate(49.41 478.70) scale(0.968 1.0)">o</text>
<text class="tt" transform="translate(56.93 478.70) scale(0.614 1.0)">m</text>
<text class="tt" transform="translate(68.72 478.70) scale(0.628 1.0)">i</text>
<text class="tt" transform="translate(69.43 478.70) scale(1.114 1.0)">c</text>
<text class="tt" transform="translate(80.74 478.70) scale(0.686 1.0)">H</text>
<text class="tt" transform="translate(89.26 478.70) scale(0.945 1.0)">a</text>
<text class="tt" transform="translate(96.51 478.70) scale(0.889 1.0)">p</text>
<text class="tt" transform="translate(103.88 478.70) scale(0.816 1.0)">l</text>
<text class="tt" transform="translate(105.40 478.70) scale(0.986 1.0)">o</text>
<text class="tt" transform="translate(113.51 478.70) scale(0.852 1.0)">g</text>
<text class="tt" transform="translate(120.95 478.70) scale(0.932 1.0)">r</text>
<text class="tt" transform="translate(124.61 478.70) scale(0.968 1.0)">o</text>
<text class="tt" transform="translate(133.36 478.70) scale(0.794 1.0)">u</text>
<text class="tt" transform="translate(140.30 478.70) scale(0.906 1.0)">p</text>
<text class="tt" transform="translate(148.30 478.70) scale(1.100 1.0)">s</text>
</g>
<path d="M2.5 485.5H156" stroke="#666" stroke-width="1"/>
<rect x="4.6" y="491.10" width="16" height="15.6" fill="#98CC7E" stroke="#555" stroke-width="1"/>
<g opacity="0.999"><text class="lg" transform="translate(27.63 502.10) scale(0.698 1.0)">G</text></g>
<rect x="4.6" y="514.95" width="16" height="15.6" fill="#F0D966" stroke="#555" stroke-width="1"/>
<g opacity="0.999"><text class="lg" transform="translate(27.68 525.95) scale(0.853 1.0)">E</text></g>
<rect x="4.6" y="538.80" width="16" height="15.6" fill="#BE74A6" stroke="#555" stroke-width="1"/>
<g opacity="0.999"><text class="lg" transform="translate(27.58 549.80) scale(0.795 1.0)">C</text></g>
<rect x="4.6" y="562.65" width="16" height="15.6" fill="#C3C3C3" stroke="#555" stroke-width="1"/>
<g opacity="0.999"><text class="lg" transform="translate(27.74 573.65) scale(0.695 1.0)">D</text></g>
<rect x="4.6" y="586.50" width="16" height="15.6" fill="#B4621E" stroke="#555" stroke-width="1"/>
<g opacity="0.999"><text class="lg" transform="translate(27.44 597.50) scale(0.893 1.0)">Z</text></g>
<rect x="4.6" y="610.35" width="16" height="15.6" fill="#E2939B" stroke="#555" stroke-width="1"/>
<g opacity="0.999"><text class="lg" transform="translate(27.92 621.35) scale(0.644 1.0)">A</text></g>
<rect x="4.6" y="634.20" width="16" height="15.6" fill="#77ADDD" stroke="#555" stroke-width="1"/>
<g opacity="0.999"><text class="lg" transform="translate(27.71 645.20) scale(0.770 1.0)">B</text></g>
</svg></body></html>
